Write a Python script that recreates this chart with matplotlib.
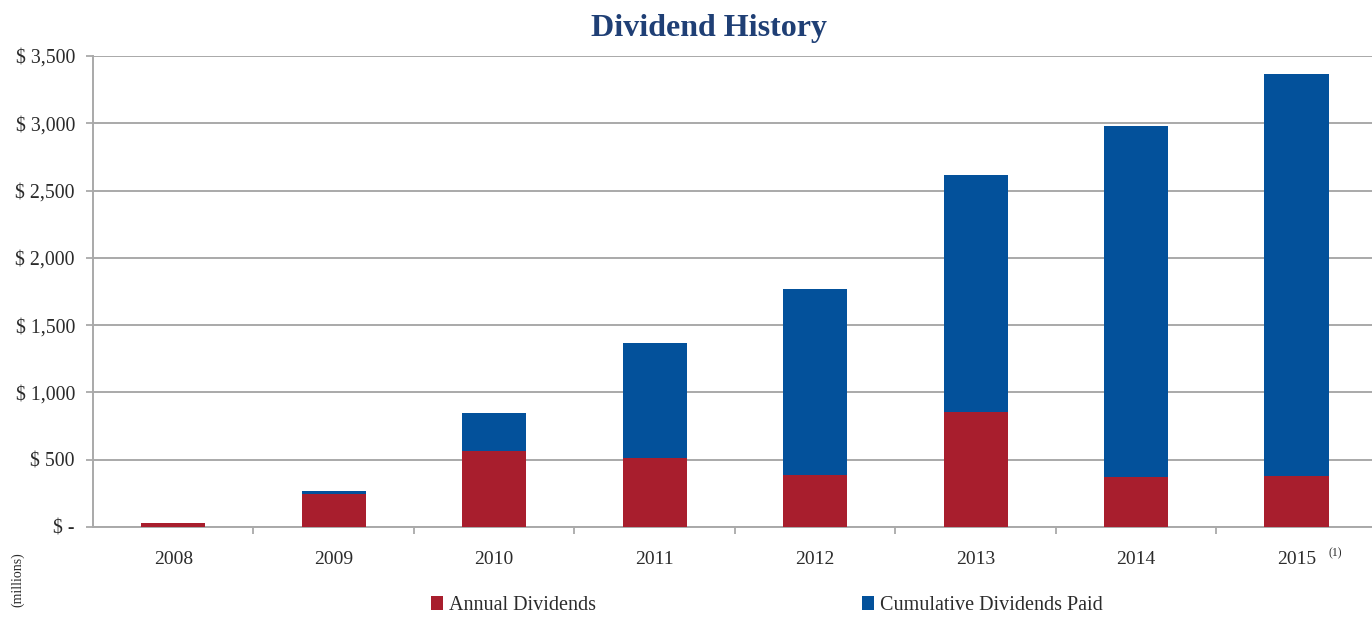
import matplotlib
matplotlib.use("Agg")
import matplotlib.pyplot as plt
from matplotlib.ticker import FixedLocator, FuncFormatter
from matplotlib.patches import Patch

plt.rcParams.update({
    "font.family": ["Liberation Serif", "DejaVu Serif"],
    "font.size": 13,
})

# ---- data (millions of $) ----
years = ["2008", "2009", "2010", "2011", "2012", "2013", "2014", "2015"]
annual = [27, 243, 566, 514, 387, 855, 372, 379]
cumulative_paid = [0, 27, 283, 856, 1378, 1759, 2609, 2989]
y_ticks = [0, 500, 1000, 1500, 2000, 2500, 3000, 3500]

RED, BLUE = "#a81e2d", "#03519b"
NAVY = "#1f3f75"
GRID = "#a9a9a9"
INK = "#2b2b2b"

fig = plt.figure(figsize=(13.72, 6.17), dpi=100)
ax = fig.add_axes([0.0678, 0.146, 0.9322, 0.7633])

x = range(len(years))
ax.bar(x, annual, width=0.4, color=RED, zorder=3, label="Annual Dividends")
ax.bar(x, cumulative_paid, width=0.4, bottom=annual, color=BLUE, zorder=3,
       label="Cumulative Dividends Paid")

ax.set_xlim(-0.5, 7.47)
ax.set_ylim(0, 3500)

# gridlines + axis styling
ax.yaxis.set_major_locator(FixedLocator(y_ticks))
ax.yaxis.set_major_formatter(FuncFormatter(lambda v, _: "$ -" if v == 0 else f"$ {v:,.0f}"))
ax.grid(axis="y", color=GRID, lw=1.4, zorder=0)
for s in ("top", "right"):
    ax.spines[s].set_visible(False)
for s in ("left", "bottom"):
    ax.spines[s].set_color(GRID)
    ax.spines[s].set_linewidth(1.4)

ax.set_xticks(list(x))
ax.set_xticklabels(years)
ax.set_xticks([i + 0.5 for i in range(7)], minor=True)
ax.tick_params(axis="x", which="major", length=0, pad=17, labelsize=14, labelcolor=INK)
ax.tick_params(axis="x", which="minor", length=5, width=1.3, color=GRID, direction="out")
ax.tick_params(axis="y", length=5, width=1.3, color=GRID, pad=8, labelsize=14.3, labelcolor=INK)

ax.text(7 + 0.2, -0.055, "(1)", transform=ax.get_xaxis_transform(),
        fontsize=8.5, color=INK, ha="left", va="center")

fig.text(0.5165, 0.953, "Dividend History", ha="center", va="center",
         fontsize=23, fontweight="bold", color=NAVY)
fig.text(0.013, 0.06, "(millions)", rotation=90, ha="center", va="center",
         fontsize=10, color=INK)

handles = [Patch(fc=RED), Patch(fc=BLUE)]
fig.legend(handles, ["Annual Dividends", "Cumulative Dividends Paid"],
           loc="center left", bbox_to_anchor=(0.301, 0.018), ncol=2, frameon=False,
           handlelength=0.6, handleheight=0.7, handletextpad=0.3,
           columnspacing=13.2, fontsize=14.5, labelcolor=INK)

fig.savefig("out.png", dpi=100, facecolor="white")
